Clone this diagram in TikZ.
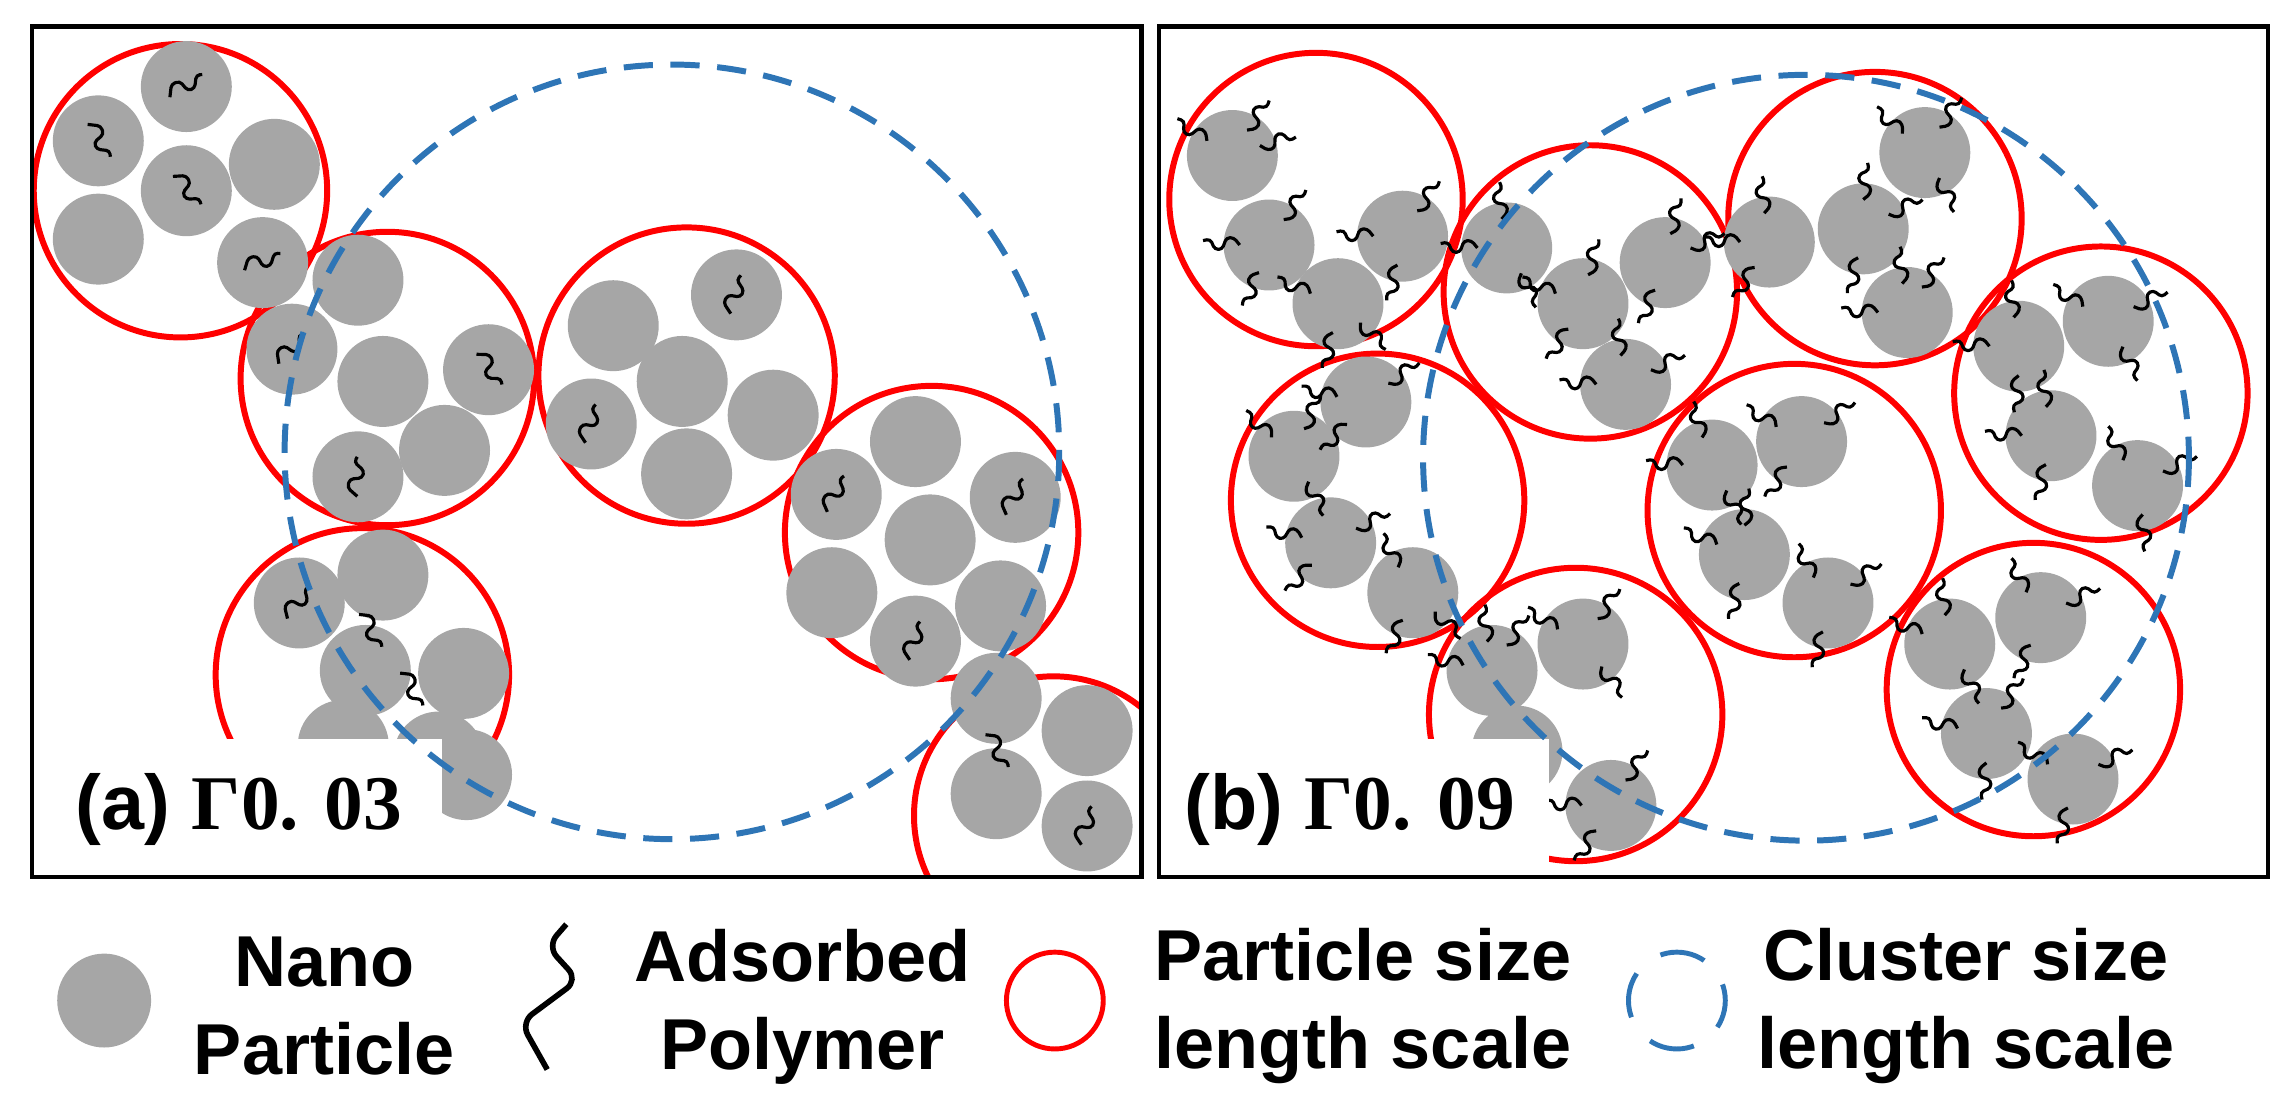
\documentclass[tikz,border=0pt]{standalone}
\usepackage{fontspec}
\setmainfont{Liberation Serif}
\setsansfont{Liberation Sans}
\begin{document}
\begin{tikzpicture}[x=0.01467cm,y=-0.01467cm,
  np/.style={fill=npgray},
  redc/.style={draw=redc,line width=1.7pt},
  bluec/.style={draw=bluec,line width=1.7pt,dash pattern=on 8.3pt off 5pt},
  polyline/.style={draw=black,line width=0.9pt,rounded corners=1pt},
  poly/.pic={\draw[polyline] (-13,3) -- (-9,-5) -- (-3,-5) -- (0,3) -- (5,3) -- (9,-5) -- (13,-4);},
  tail/.pic={\draw[polyline] (20,0) -- (24,5) -- (29,5) -- (32,-3) -- (37,-3) -- (40,4) -- (45,3);},
  lab/.style={font=\sffamily\bfseries\fontsize{20.5pt}{25pt}\selectfont,align=center,inner sep=0pt}]
\definecolor{npgray}{HTML}{A6A6A6}
\definecolor{redc}{HTML}{FF0000}
\definecolor{bluec}{HTML}{2E75B6}
\useasboundingbox (0,0) rectangle (1550,757.3);
% ---------- panel a ----------
\begin{scope}
\clip (22,18) rectangle (778,598);
\foreach \x/\y/\r in {123/130/100,264/258/100,468/256/101,635/363/100,247/460/100,718/556/95}
  \draw[redc] (\x,\y) circle (\r);
\foreach \x/\y in {127/59,67/96,127/130,187/112,67/163,179/179,
  244/191,199/238,261/260,333/252,303/307,244/325,
  418/222,502/201,465/260,403/289,527/283,468/323,
  624/301,570/337,692/339,634/368,567/404,682/413,624/437,
  204/411,261/392,249/457,316/459,234/508,299/516,318/528,
  679/476,741/498,679/541,741/563}
  \fill[np] (\x,\y) circle (31);
\foreach \x/\y/\a in {127/59/20,67/96/-70,127/130/-60,179/179/10,199/238/35,333/252/-65,
  244/325/75,502/201/60,403/289/60,570/337/50,692/339/50,624/437/60,204/411/40,
  252/430/-70,280/470/-70,679/512/-70,741/563/60}
  \pic[rotate=\a] at (\x,\y) {poly};
\fill[white] (22,504) rectangle (301,598);
\draw[bluec] (458,308) circle (264);
\end{scope}
\draw[line width=1.2pt] (22,18) rectangle (778,598);
\node (la) at (163,552) {\fontsize{22pt}{24pt}\selectfont\sffamily\bfseries (a) \rmfamily Γ0. 03};
% ---------- panel b ----------
\begin{scope}
\clip (790,18) rectangle (1546,598);
\foreach \x/\y in {897/136,1084/199,1278/149,1432/268,939/341,1223/348,1386/470,1074/487}
  \draw[redc] (\x,\y) circle (100);
\foreach \x/\y in {840/106,865/167,912/207,956/161,
  1027/169,1079/207,1135/179,1108/262,
  1312/104,1270/156,1206/165,1300/213,
  1376/236,1437/219,1398/297,1457/331,
  931/274,882/311,907/370,963/404,
  1228/301,1167/317,1189/378,1246/411,
  1391/421,1329/439,1354/500,1413/531,
  1079/439,1017/457,1034/512,1098/549}
  \fill[np] (\x,\y) circle (31);
\foreach \x/\y/\a/\b/\c in {840/106/20/60/150,865/167/180/250/60,912/207/-100/-40/160,956/161/-100/180/60,
  1027/169/180/100/-60,1079/207/-120/160/80,1135/179/-110/30/80,1108/262/180/30/100,
  1312/104/-60/60/140,1270/156/-100/90/30,1206/165/-120/180/100,1300/213/180/60/100,
  1376/236/100/180/-90,1437/219/-60/30/150,1398/297/-100/100/180,1457/331/-80/30/120,
  931/274/-130/40/170,882/311/-60/140/70,907/370/-130/170/30,963/404/-110/-40/120,
  1228/301/-120/40/150,1167/317/180/110/-60,1189/378/-100/160/90,1246/411/-100/40/120,
  1391/421/-110/30/120,1329/439/160/100/-60,1354/500/-90/60/170,1413/531/-100/30/150,
  1079/439/-50/60/150,1017/457/170/100/60,1098/549/-120/180/60}
  {\pic[rotate=\a] at (\x,\y) {tail};
   \pic[rotate=\b] at (\x,\y) {tail};
   \pic[rotate=\c] at (\x,\y) {tail};}
\fill[white] (790,504) rectangle (1056,598);
\draw[bluec] (1231,312) circle (261);
\end{scope}
\draw[line width=1.2pt] (790,18) rectangle (1546,598);
\node (lb) at (920,552) {\fontsize{22pt}{24pt}\selectfont\sffamily\bfseries (b) \rmfamily Γ0. 09};
% ---------- legend ----------
\fill[np] (71,682) circle (32);
\node[lab] (l1) at (221,686) {Nano\\Particle};
\draw[line width=1.6pt,rounded corners=4pt] (386,630) -- (373,645) -- (394,668) -- (355,697) -- (373,729);
\node[lab] (l2) at (547,686) {Adsorbed\\Polymer};
\draw[redc,line width=1.4pt] (719,682) circle (33);
\node[lab] (l3) at (929,686) {Particle size\\length scale};
\draw[draw=bluec,line width=1.4pt,dash pattern=on 13pt off 8.7pt,dash phase=5pt] (1143,682) circle (33);
\node[lab] (l4) at (1340,686) {Cluster size\\length scale};
\end{tikzpicture}
\end{document}
